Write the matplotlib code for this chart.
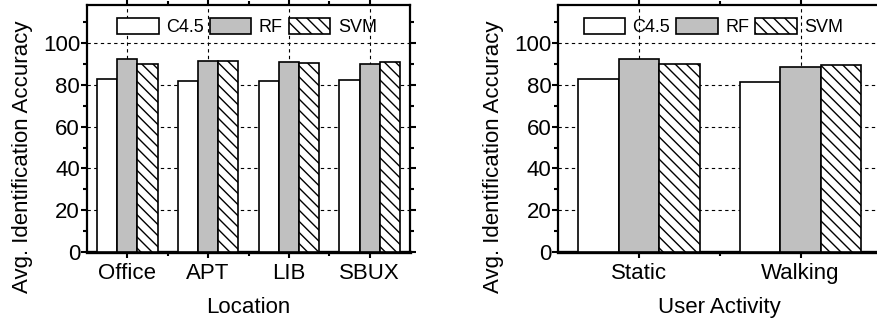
import matplotlib
matplotlib.use("Agg")
import matplotlib.pyplot as plt
import numpy as np

plt.rcParams['font.family'] = ['Liberation Sans', 'DejaVu Sans']
plt.rcParams['hatch.linewidth'] = 1.0

methods = ['C4.5', 'RF', 'SVM']
locations = ['Office', 'APT', 'LIB', 'SBUX']
loc_acc = {
    'C4.5': [82.7, 81.5, 81.9, 82.1],
    'RF': [92.0, 91.5, 91.0, 90.0],
    'SVM': [90.0, 91.1, 90.3, 90.8],
}
activities = ['Static', 'Walking']
act_acc = {
    'C4.5': [82.8, 81.1],
    'RF': [92.0, 88.2],
    'SVM': [90.0, 89.2],
}

styles = {
    'C4.5': dict(color='white', hatch=None),
    'RF': dict(color='#c0c0c0', hatch=None),
    'SVM': dict(color='white', hatch='\\\\\\'),
}

W, H = 877, 324
fig = plt.figure(figsize=(W / 100, H / 100), dpi=100)


def draw(ax, cats, data, xlabel):
    x = np.arange(len(cats))
    w = 0.25
    for i, m in enumerate(methods):
        ax.bar(x + (i - 1) * w, data[m], w, color=styles[m]['color'],
               hatch=styles[m]['hatch'], edgecolor='black', linewidth=1.2,
               zorder=3, label=m)
    ax.set_xlim(-0.5, len(cats) - 0.5)
    ax.set_ylim(0, 118)
    ax.set_yticks([0, 20, 40, 60, 80, 100])
    ax.set_yticks(np.arange(10, 118, 20), minor=True)
    ax.set_xticks(x)
    ax.set_xticks(x[:-1] + 0.5, minor=True)
    ax.set_xticklabels(cats)
    ax.grid(True, which='major', color='black', linestyle=(0, (3, 3)),
            linewidth=0.8, zorder=0)
    ax.tick_params(which='both', direction='out', top=True, right=True,
                   labelsize=16, width=1.5, pad=1)
    ax.tick_params(axis='x', which='major', pad=4)
    ax.tick_params(which='major', length=4)
    ax.tick_params(which='minor', length=3)
    for s in ax.spines.values():
        s.set_linewidth(1.6)
        s.set_zorder(2)
    ax.spines['bottom'].set_linewidth(2.4)
    ax.set_xlabel(xlabel, fontsize=16, labelpad=9)
    ax.set_ylabel('Avg. Identification Accuracy', fontsize=16)
    ax.yaxis.set_label_coords(-0.167, 0.387)
    ax.legend(loc='upper center', ncol=3, fontsize=13, frameon=False,
              handlelength=2.3, handleheight=1.05, handletextpad=0.4,
              columnspacing=0.35, borderaxespad=0.3,
              bbox_to_anchor=(0.495, 1.0))


bottom = (H - 252.3) / H
height = 247.3 / H
ax1 = fig.add_axes([87 / W, bottom, 323 / W, height])
draw(ax1, locations, loc_acc, 'Location')

ax2 = fig.add_axes([558.3 / W, bottom, 323 / W, height])
draw(ax2, activities, act_acc, 'User Activity')
ax2.legend_.set_bbox_to_anchor((0.48, 1.0))

fig.savefig('out.png', dpi=100)
